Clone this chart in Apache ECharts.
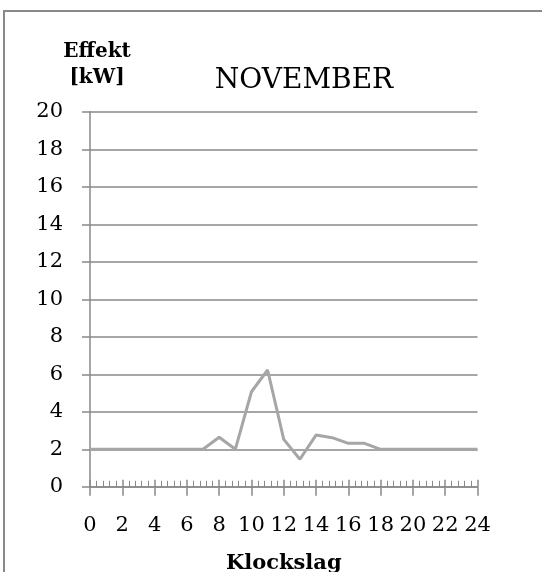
<!DOCTYPE html>
<html>
<head>
<meta charset="utf-8">
<script src="https://cdn.jsdelivr.net/npm/echarts@6/dist/echarts.min.js"></script>
<style>
  html, body { margin: 0; padding: 0; background: #fff; }
  #chart { width: 542px; height: 572px; }
</style>
</head>
<body>
<div id="chart"></div>
<script>
// Hourly power demand for November
const hours = [0, 1, 2, 3, 4, 5, 6, 7, 8, 9, 10, 11, 12, 13, 14, 15, 16, 17, 18, 19, 20, 21, 22, 23, 24];
const effektKW = [2, 2, 2, 2, 2, 2, 2, 2, 2.64, 2.0, 5.07, 6.23, 2.53, 1.47, 2.76, 2.62, 2.32, 2.32, 2.0, 2, 2, 2, 2, 2, 2];
const xTicks = { min: 0, max: 24, step: 2 };
const yTicks = { min: 0, max: 20, step: 2 };

const titleText = 'NOVEMBER';
const yName = 'Effekt\n[kW]';
const xName = 'Klockslag';

const serif = '"DejaVu Serif", "Liberation Serif", serif';
const axisGrey = '#898989';

const chart = echarts.init(document.getElementById('chart'), null, { renderer: 'canvas' });

chart.setOption({
  animation: false,
  backgroundColor: '#ffffff',
  title: {
    text: titleText,
    left: 299,
    top: 62,
    textAlign: 'center',
    textStyle: { fontFamily: serif, fontWeight: 'normal', fontSize: 28, color: '#000' }
  },
  graphic: [{
    type: 'rect',
    shape: { x: 4, y: 11, width: 700, height: 700 },
    style: { fill: 'none', stroke: axisGrey, lineWidth: 2 },
    silent: true
  }],
  grid: { left: 90, right: 64.5, top: 111.8, bottom: 85.2, outerBoundsMode: 'none' },
  xAxis: [{
    type: 'value',
    min: xTicks.min,
    max: xTicks.max,
    interval: xTicks.step,
    name: xName,
    nameLocation: 'middle',
    nameGap: 66,
    nameTextStyle: { fontFamily: serif, fontWeight: 'bold', fontSize: 21, color: '#000' },
    axisLine: { show: true, lineStyle: { color: axisGrey, width: 1.5 } },
    axisTick: { show: true, inside: true, length: 7, lineStyle: { color: axisGrey, width: 1.5 } },
    minorTick: { show: true, splitNumber: 5, length: 6, lineStyle: { color: axisGrey, width: 1 } },
    axisLabel: { fontFamily: serif, fontSize: 21, color: '#000', margin: 28 },
    splitLine: { show: false }
  }, {
    // outward half of the major ticks
    type: 'value',
    position: 'bottom',
    min: xTicks.min,
    max: xTicks.max,
    interval: xTicks.step,
    axisLine: { show: false },
    axisTick: { show: true, inside: false, length: 9, lineStyle: { color: axisGrey, width: 1.5 } },
    axisLabel: { show: false },
    splitLine: { show: false }
  }],
  yAxis: {
    type: 'value',
    min: yTicks.min,
    max: yTicks.max,
    interval: yTicks.step,
    name: yName,
    nameLocation: 'end',
    nameGap: 21,
    nameTextStyle: {
      fontFamily: serif, fontWeight: 'bold', fontSize: 20, color: '#000',
      align: 'center', lineHeight: 26, padding: [0, 0, 0, 14]
    },
    axisLine: { show: true, lineStyle: { color: axisGrey, width: 1.5 } },
    axisTick: { show: true, inside: false, length: 8, lineStyle: { color: axisGrey, width: 1.5 } },
    axisLabel: { fontFamily: serif, fontSize: 21, color: '#000', margin: 27 },
    splitLine: { show: true, lineStyle: { color: axisGrey, width: 1.5 } }
  },
  series: [{
    type: 'line',
    xAxisIndex: 0,
    data: hours.map((h, i) => [h, effektKW[i]]),
    showSymbol: false,
    symbol: 'none',
    lineStyle: { color: '#a6a6a6', width: 3 },
    z: 3
  }]
});
</script>
</body>
</html>
